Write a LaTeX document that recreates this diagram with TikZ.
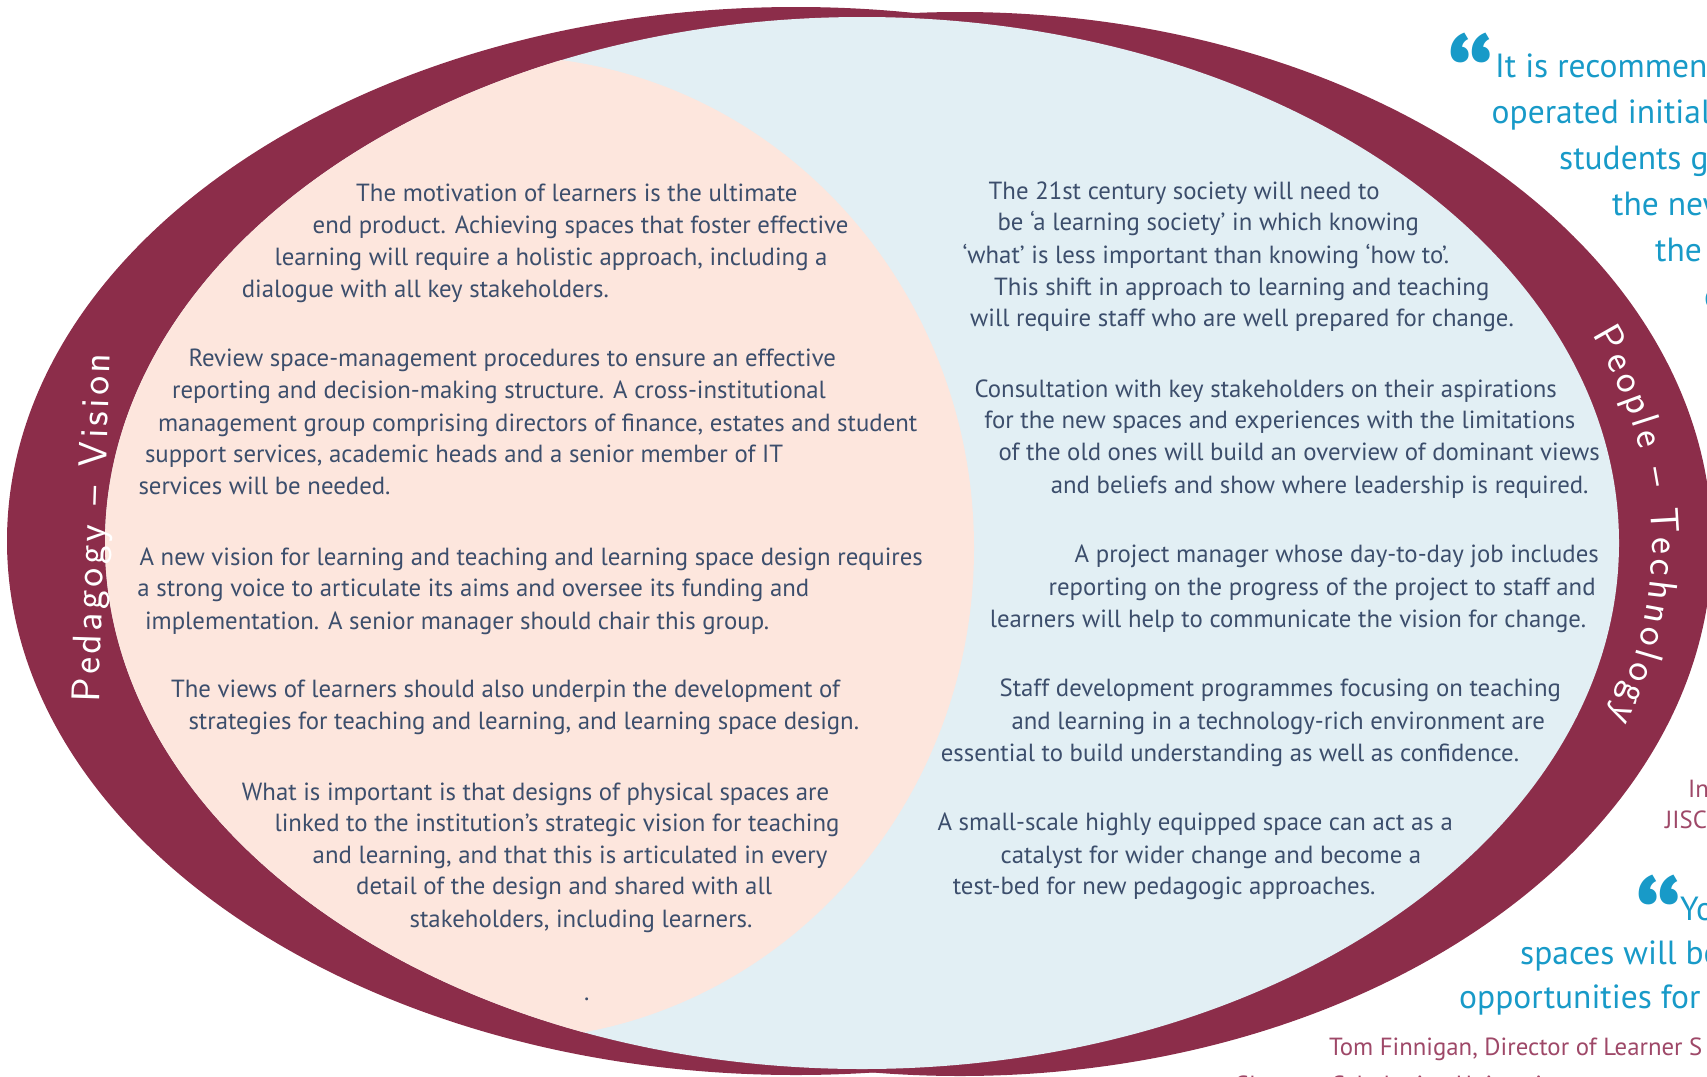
\documentclass[tikz,border=0pt]{standalone}
\usepackage{fontspec}
\setmainfont{PT Sans}
\usetikzlibrary{decorations.text}

\definecolor{ringred}{RGB}{140,45,74}
\definecolor{peachfill}{RGB}{253,230,221}
\definecolor{bluefill}{RGB}{226,239,244}
\definecolor{bodyblue}{RGB}{60,78,108}
\definecolor{quotecyan}{RGB}{24,154,200}
\definecolor{creditred}{RGB}{158,72,104}

\begin{document}
\begin{tikzpicture}
                \tikzset{x=1pt, y=-1pt}
                \tikzstyle{txt}=[inner sep=0pt, anchor=base west, text=bodyblue, font=\fontsize{24.8}{29}\selectfont]
                \tikzstyle{quote}=[txt, text=quotecyan, font=\fontsize{33.5}{38}\selectfont]
                \tikzstyle{credit}=[txt, text=creditred]
                \tikzstyle{qmark}=[inner sep=0pt, anchor=north west, text=quotecyan, font=\fontsize{122}{122}\selectfont\bfseries]
                \tikzstyle{ringtext}=[decorate, decoration={text along path, text align={fit to path}, text color=white}]

                \useasboundingbox (0,0) rectangle (1707,1076);

                % rings
                \fill[ringred]   (796,541) ellipse [x radius=789, y radius=534];
                \fill[ringred]   (960,544) ellipse [x radius=752, y radius=532];
                \fill[bluefill]  (862,543) ellipse [x radius=757, y radius=526];
                \begin{scope}
                    \clip (862,543) ellipse [x radius=757, y radius=526];
                    \fill[peachfill] (500,548) ellipse [x radius=474, y radius=492];
                \end{scope}

                % ring labels
                \path[ringtext, decoration={text={|\sffamily\fontsize{40}{40}\selectfont|Pedagogy – Vision}}]
                    (99,702) -- (110,354);
                \path[ringtext, decoration={text={|\sffamily\fontsize{40}{40}\selectfont|People – Technology}}]
                    (1592,335) arc [start angle=-22.48, end angle=18.77, x radius=790, y radius=544];

                % left column
                \draw (356.0, 201.4)    node[txt]   (l1)    {The motivation of learners is the ultimate};
                \draw (312.5, 233.0)    node[txt]   (l2)    {end product. Achieving spaces that foster effective};
                \draw (274.4, 265.6)    node[txt]   (l3)    {learning will require a holistic approach, including a};
                \draw (241.7, 297.2)    node[txt]   (l4)    {dialogue with all key stakeholders.};

                \draw (188.3, 366.9)    node[txt]   (l5)    {Review space-management procedures to ensure an effective};
                \draw (172.0, 398.5)    node[txt]   (l6)    {reporting and decision-making structure. A cross-institutional};
                \draw (157.9, 431.1)    node[txt]   (l7)    {management group comprising directors of finance, estates and student};
                \draw (144.8, 462.7)    node[txt]   (l8)    {support services, academic heads and a senior member of IT};
                \draw (138.3, 494.3)    node[txt]   (l9)    {services will be needed.};

                \draw (139.4, 565.0)    node[txt]   (l10)   {A new vision for learning and teaching and learning space design requires};
                \draw (137.2, 596.6)    node[txt]   (l11)   {a strong voice to articulate its aims and oversee its funding and};
                \draw (144.8, 629.3)    node[txt]   (l12)   {implementation. A senior manager should chair this group.};

                \draw (170.9, 697.9)    node[txt]   (l13)   {The views of learners should also underpin the development of};
                \draw (188.3, 729.4)    node[txt]   (l14)   {strategies for teaching and learning, and learning space design.};

                \draw (241.7, 800.2)    node[txt]   (l15)   {What is important is that designs of physical spaces are};
                \draw (274.4, 831.8)    node[txt]   (l16)   {linked to the institution’s strategic vision for teaching};
                \draw (312.5, 863.3)    node[txt]   (l17)   {and learning, and that this is articulated in every};
                \draw (356.0, 894.9)    node[txt]   (l18)   {detail of the design and shared with all};
                \draw (409.4, 927.6)    node[txt]   (l19)   {stakeholders, including learners.};
                \draw (584.0, 1000.0)   node[txt]   (dot)   {.};

                % right column
                \draw (988.5, 199.2)    node[txt]   (r1)    {The 21st century society will need to};
                \draw (997.3, 230.8)    node[txt]   (r2)    {be ‘a learning society’ in which knowing};
                \draw (962.4, 263.5)    node[txt]   (r3)    {‘what’ is less important than knowing ‘how to’.};
                \draw (994.0, 295.0)    node[txt]   (r4)    {This shift in approach to learning and teaching};
                \draw (970.0, 326.6)    node[txt]   (r5)    {will require staff who are well prepared for change.};

                \draw (974.4, 397.4)    node[txt]   (r6)    {Consultation with key stakeholders on their aspirations};
                \draw (984.2, 428.9)    node[txt]   (r7)    {for the new spaces and experiences with the limitations};
                \draw (998.3, 460.5)    node[txt]   (r8)    {of the old ones will build an overview of dominant views};
                \draw (1050.6, 493.2)   node[txt]   (r9)    {and beliefs and show where leadership is required.};

                \draw (1074.5, 562.9)   node[txt]   (r10)   {A project manager whose day-to-day job includes};
                \draw (1048.4, 595.5)   node[txt]   (r11)   {reporting on the progress of the project to staff and};
                \draw (989.6, 627.1)    node[txt]   (r12)   {learners will help to communicate the vision for change.};

                \draw (999.4, 696.8)    node[txt]   (r13)   {Staff development programmes focusing on teaching};
                \draw (1011.4, 729.4)   node[txt]   (r14)   {and learning in a technology-rich environment are};
                \draw (940.6, 761.0)    node[txt]   (r15)   {essential to build understanding as well as confidence.};

                \draw (937.4, 830.7)    node[txt]   (r16)   {A small-scale highly equipped space can act as a};
                \draw (1000.5, 863.3)   node[txt]   (r17)   {catalyst for wider change and become a};
                \draw (952.6, 894.9)    node[txt]   (r18)   {test-bed for new pedagogic approaches.};

                % quotes on the right
                \draw (1446, 33)        node[qmark]  (qm1)  {“};
                \draw (1495, 77)        node[quote]  (q1a)  {It is recommen};
                \draw (1491.5, 123)     node[quote]  (q1b)  {operated initiall};
                \draw (1559, 169)       node[quote]  (q1c)  {students ga};
                \draw (1612, 215)       node[quote]  (q1d)  {the new};
                \draw (1655, 261)       node[quote]  (q1e)  {the};
                \draw (1704, 307)       node[quote]  (q1f)  {g};

                \draw (1688, 797)       node[credit] (c1a)  {In};
                \draw (1665, 828)       node[credit] (c1b)  {JISC};

                \draw (1634, 875)       node[qmark]  (qm2)  {“};
                \draw (1680, 920)       node[quote]  (q2a)  {Yo};
                \draw (1520, 964)       node[quote]  (q2b)  {spaces will be};
                \draw (1459, 1008)      node[quote]  (q2c)  {opportunities for t};

                \draw (1329, 1055)      node[credit] (c2a)  {Tom Finnigan, Director of Learner S};
                \draw (1234, 1093)      node[credit] (c2b)  {Glasgow Caledonian University};
            \end{tikzpicture}
\end{document}
